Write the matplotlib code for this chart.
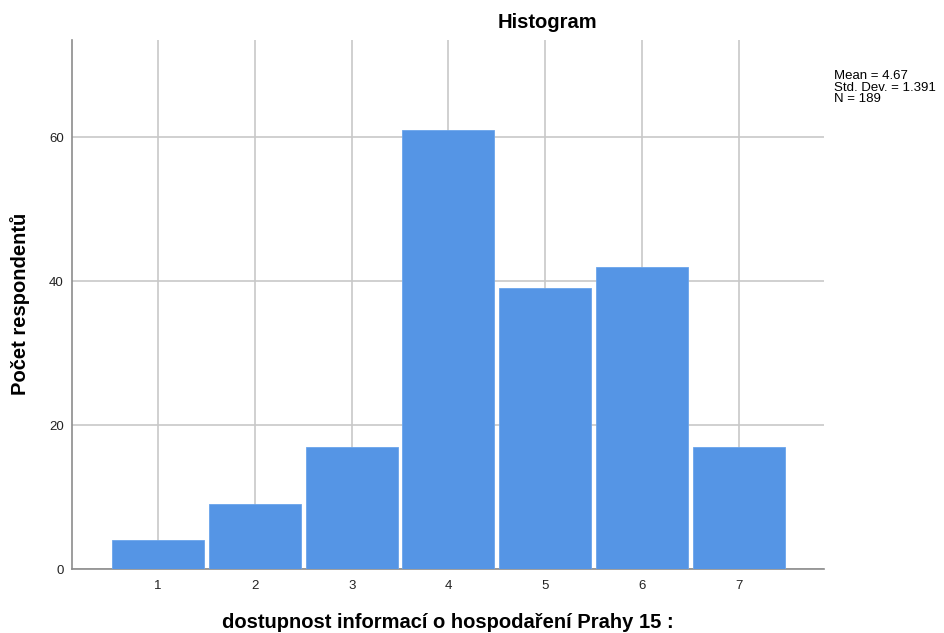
import numpy as np
import matplotlib
matplotlib.use("Agg")
import matplotlib.pyplot as plt

plt.rcParams["font.family"] = ["Liberation Sans", "DejaVu Sans"]

# histogram data
scores = [1, 2, 3, 4, 5, 6, 7]
counts = [4, 9, 17, 61, 39, 42, 17]
y_ticks = [0, 20, 40, 60]
stats_text = "Mean = 4.67\nStd. Dev. = 1.391\nN = 189"

bar_color = '#5595e5'
grid_color = '#c8c8c8'
spine_color = '#8c8c8c'

fig = plt.figure(figsize=(9.44, 6.33), dpi=100)
ax = fig.add_axes([72/944, 64/633, (824-72)/944, (569-40)/633])

ax.bar(scores, counts, width=0.95, color=bar_color, edgecolor='#6aa5ec',
       linewidth=0.6, zorder=3)

ax.set_xlim(0.112, 7.878)
ax.set_ylim(0, 73.5)
ax.set_xticks(scores)
ax.set_xticklabels(scores, fontsize=9.5, color='#222222')
ax.set_yticks(y_ticks)
ax.set_yticklabels(y_ticks, fontsize=9.5, color='#222222')
ax.tick_params(axis='x', length=0, pad=8)
ax.tick_params(axis='y', length=0, pad=6)

ax.grid(color=grid_color, linewidth=1.2, zorder=0)
ax.set_axisbelow(True)
for s in ['top', 'right']:
    ax.spines[s].set_visible(False)
for s in ['left', 'bottom']:
    ax.spines[s].set_color(spine_color)
    ax.spines[s].set_linewidth(1.2)

fig.text(547/944, 1 - 23/633, 'Histogram', ha='center', va='center',
         fontsize=14.5, fontweight='bold')
fig.text(20/944, 1 - 304/633, 'Počet respondentů', rotation=90,
         ha='center', va='center', fontsize=14.5, fontweight='bold')
fig.text(448/944, 1 - 622/633, 'dostupnost informací o hospodaření Prahy 15 :',
         ha='center', va='center', fontsize=14.5, fontweight='bold')
fig.text(834/944, 1 - 70/633, stats_text, ha='left', va='top',
         fontsize=9.5, linespacing=0.95)

fig.savefig('out.png', dpi=100)
